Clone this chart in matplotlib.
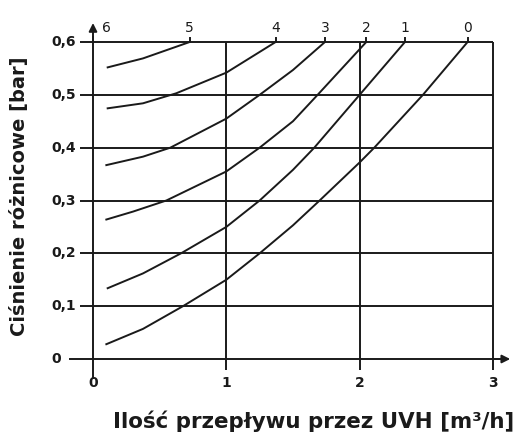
import matplotlib
matplotlib.use("Agg")
import matplotlib.pyplot as plt

# ---- data ----
curve_labels = ["0", "1", "2", "3", "4", "5"]
c0_x = [0.10, 0.375, 0.675, 1.00, 1.25, 1.50, 1.70, 2.00, 2.11, 2.475, 2.81]
c0_y = [0.028, 0.057, 0.10, 0.15, 0.20, 0.253, 0.30, 0.372, 0.40, 0.50, 0.60]
c1_x = [0.11, 0.375, 0.66, 1.00, 1.25, 1.50, 1.66, 2.00, 2.34]
c1_y = [0.134, 0.162, 0.20, 0.25, 0.30, 0.358, 0.40, 0.50, 0.60]
c2_x = [0.10, 0.30, 0.55, 1.00, 1.25, 1.50, 1.685, 2.05]
c2_y = [0.264, 0.279, 0.30, 0.355, 0.40, 0.450, 0.50, 0.60]
c3_x = [0.10, 0.375, 0.58, 1.00, 1.25, 1.50, 1.74]
c3_y = [0.367, 0.383, 0.40, 0.455, 0.50, 0.547, 0.60]
c4_x = [0.11, 0.375, 0.625, 1.00, 1.37]
c4_y = [0.4745, 0.484, 0.503, 0.542, 0.60]
c5_x = [0.11, 0.375, 0.725]
c5_y = [0.552, 0.569, 0.60]
curves_x = [c0_x, c1_x, c2_x, c3_x, c4_x, c5_x]
curves_y = [c0_y, c1_y, c2_y, c3_y, c4_y, c5_y]
extra_label = "6"
extra_label_x = 0.10

x_ticks = [0, 1, 2, 3]
x_tick_labels = ["0", "1", "2", "3"]
y_ticks = [0, 0.1, 0.2, 0.3, 0.4, 0.5, 0.6]
y_tick_labels = ["0", "0,1", "0,2", "0,3", "0,4", "0,5", "0,6"]
x_label = "Ilość przepływu przez UVH [m³/h]"
y_label = "Ciśnienie różnicowe [bar]"

plt.rcParams['font.family'] = ['DejaVu Sans']

W, H = 519, 443
fig = plt.figure(figsize=(W / 100, H / 100), dpi=100)
fig.patch.set_facecolor("white")

# pixel mapping: x 0->93px, 3->493px ; y 0->359px, 0.6->42px
xmin, xmax = -0.2, 3.18
ymin, ymax = -0.045, 0.645
px_x = 133.3
px_y = 528.3
left = (93 + xmin * px_x) / W
width = (xmax - xmin) * px_x / W
bottom = (H - (359 - ymin * px_y)) / H
height = (ymax - ymin) * px_y / H
ax = fig.add_axes([left, bottom, width, height])
ax.set_xlim(xmin, xmax)
ax.set_ylim(ymin, ymax)
ax.axis("off")

lc = "#1a1a1a"
lw = 1.4

# horizontal grid / frame lines with left tick stubs
for yv in y_ticks[1:]:
    ax.plot([-0.1, 3.0], [yv, yv], color=lc, lw=lw, solid_capstyle="butt")
# vertical grid lines with bottom tick stubs
for xv in x_ticks[1:]:
    ax.plot([xv, xv], [-0.02, 0.6], color=lc, lw=lw, solid_capstyle="butt")
# axes with arrows
ax.plot([-0.17, 3.05], [0, 0], color=lc, lw=lw)
ax.annotate("", xy=(3.13, 0), xytext=(3.0, 0),
            arrowprops=dict(arrowstyle="-|>", color=lc, lw=lw,
                            mutation_scale=12, shrinkA=0, shrinkB=0))
ax.plot([0, 0], [-0.036, 0.61], color=lc, lw=lw)
ax.annotate("", xy=(0, 0.636), xytext=(0, 0.6),
            arrowprops=dict(arrowstyle="-|>", color=lc, lw=lw,
                            mutation_scale=12, shrinkA=0, shrinkB=0))

# curves
for cx, cy, lab in zip(curves_x, curves_y, curve_labels):
    ax.plot(cx, cy, color=lc, lw=lw, solid_joinstyle="round")
    ax.plot([cx[-1], cx[-1]], [0.6, 0.608], color=lc, lw=lw)
    ax.text(cx[-1], 0.613, lab, ha="center", va="bottom", fontsize=10,
            color=lc)
ax.text(extra_label_x, 0.613, extra_label, ha="center", va="bottom",
        fontsize=10, color=lc)

# tick labels
for xv, lab in zip(x_ticks, x_tick_labels):
    ax.text(xv, -0.045, lab, ha="center", va="center", fontsize=10,
            fontweight="bold", color=lc)
for yv, lab in zip(y_ticks, y_tick_labels):
    ax.text(-0.31, yv, lab, ha="left", va="center", fontsize=10,
            fontweight="bold", color=lc)

fig.text(314 / W, 1 - 421 / H, x_label, ha="center", va="center",
         fontsize=15.4, fontweight="bold", color=lc)
fig.text(20 / W, 1 - 196 / H, y_label, ha="center", va="center",
         rotation=90, fontsize=14, fontweight="bold", color=lc)

fig.savefig("out.png", dpi=100, facecolor="white")
